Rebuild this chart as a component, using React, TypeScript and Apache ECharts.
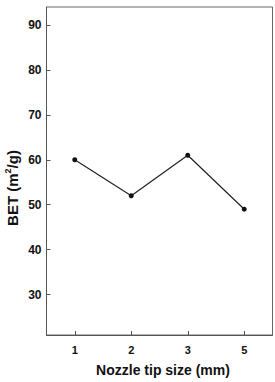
import React, { useEffect, useRef } from "react";
import * as echarts from "echarts";

const categories = ["1", "2", "3", "5"];
const betValues = [60, 52, 61, 49];
const yTicks = [30, 40, 50, 60, 70, 80, 90];

export default function App() {
  const ref = useRef<HTMLDivElement>(null);
  useEffect(() => {
    if (!ref.current) return;
    const chart = echarts.init(ref.current, null, { renderer: "svg" });
    const font = "Arial, 'Liberation Sans', sans-serif";
    chart.setOption({
      animation: false,
      backgroundColor: "#fff",
      grid: {
        left: 46.5,
        right: 2.5,
        top: 7,
        bottom: 39,
        show: true,
        borderColor: "#666",
        borderWidth: 1,
      },
      graphic: [
        {
          type: "text",
          x: 12,
          y: 188,
          rotation: Math.PI / 2,
          style: {
            text: "{n|BET (m}{sup|2}{n|/g)}",
            align: "center",
            verticalAlign: "middle",
            fill: "#111",
            rich: {
              n: {
                fontFamily: font,
                fontWeight: "bold",
                fontSize: 15,
                fill: "#111",
              },
              sup: {
                fontFamily: font,
                fontWeight: "bold",
                fontSize: 9,
                fill: "#111",
                verticalAlign: "top",
                padding: [0, 0, 8, 0],
              },
            },
          },
        },
      ],
      xAxis: {
        type: "category",
        data: categories,
        boundaryGap: true,
        name: "Nozzle tip size (mm)",
        nameLocation: "middle",
        nameGap: 28,
        nameTextStyle: {
          fontFamily: font,
          fontWeight: "bold",
          fontSize: 14,
          color: "#111",
          padding: [0, 0, 0, 7],
        },
        axisLine: { show: true, lineStyle: { color: "#555", width: 1 } },
        axisTick: { show: true, inside: true, length: 4, alignWithLabel: true, lineStyle: { color: "#555" } },
        axisLabel: { fontFamily: font, fontWeight: "bold", fontSize: 11, color: "#111", margin: 9 },
        splitLine: { show: false },
      },
      yAxis: {
        type: "value",
        min: 21,
        max: 94,
        axisLine: { show: true, lineStyle: { color: "#555", width: 1 } },
        axisTick: { show: true, inside: true, length: 4, customValues: yTicks, lineStyle: { color: "#555" } },
        axisLabel: {
          fontFamily: font,
          fontWeight: "bold",
          fontSize: 12,
          color: "#111",
          margin: 5,
          customValues: yTicks,
        },
        splitLine: { show: false },
      },
      series: [
        {
          type: "line",
          data: betValues,
          symbol: "circle",
          symbolSize: 5,
          itemStyle: { color: "#111" },
          lineStyle: { color: "#222", width: 1.2 },
        },
      ],
    });
    return () => chart.dispose();
  }, []);
  return <div ref={ref} style={{ width: 275, height: 382, position: "absolute", left: 0, top: 0 }} />;
}
